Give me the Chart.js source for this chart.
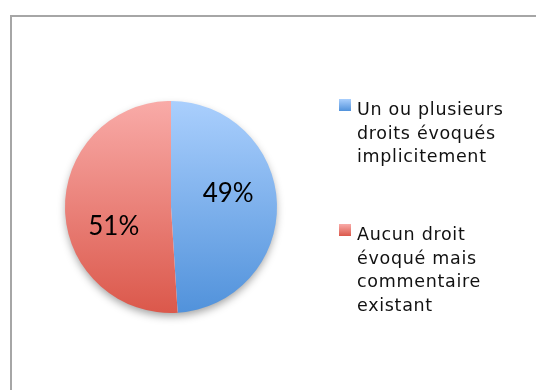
<!DOCTYPE html>
<html>
<head>
<meta charset="utf-8">
<script src="https://cdn.jsdelivr.net/npm/chart.js@4.4.0/dist/chart.umd.min.js"></script>
<style>
    html, body { margin: 0; padding: 0; background: #fff; }
    #wrap { position: relative; width: 536px; height: 390px; overflow: hidden; }
    #frame {
        position: absolute; left: 10px; top: 15px;
        width: 600px; height: 420px;
        border: 2px solid #a6a6a6; box-sizing: border-box;
    }
    canvas { position: absolute; left: 0; top: 0; }
</style>
</head>
<body>
<div id="wrap">
    <div id="frame"></div>
    <canvas id="pieChart" width="536" height="390"></canvas>
</div>
<script>
const categories = ["Un ou plusieurs droits évoqués implicitement", "Aucun droit évoqué mais commentaire existant"];
const legendLines = [
    ["Un ou plusieurs", "droits évoqués", "implicitement"],
    ["Aucun droit", "évoqué mais", "commentaire", "existant"]
];
const shares = [49, 51];
const colorsTop = ["#aacffd", "#f9aba8"];
const colorsBottom = ["#5192db", "#db584b"];

// soft drop shadow under the whole pie
const pieShadow = {
    id: "pieShadow",
    beforeDatasetsDraw(chart) {
        const arc = chart.getDatasetMeta(0).data[0];
        if (!arc) return;
        const ctx = chart.ctx;
        ctx.save();
        ctx.shadowColor = "rgba(0,0,0,0.38)";
        ctx.shadowBlur = 9;
        ctx.shadowOffsetY = 4;
        ctx.beginPath();
        ctx.arc(arc.x, arc.y, arc.outerRadius - 1, 0, Math.PI * 2);
        ctx.fillStyle = "#fff";
        ctx.fill();
        ctx.restore();
    }
};

// percentage text inside each slice
const sliceLabels = {
    id: "sliceLabels",
    afterDatasetsDraw(chart, args, opts) {
        const ctx = chart.ctx;
        const meta = chart.getDatasetMeta(0);
        ctx.save();
        ctx.font = opts.font;
        ctx.fillStyle = "#000";
        ctx.textAlign = "center";
        ctx.textBaseline = "middle";
        meta.data.forEach(function (arc, i) {
            const mid = (arc.startAngle + arc.endAngle) / 2;
            const d = arc.outerRadius * opts.distance;
            const x = arc.x + Math.cos(mid) * d;
            const y = arc.y + Math.sin(mid) * d + opts.nudgeY[i];
            ctx.fillText(chart.data.datasets[0].data[i] + "%", x, y);
        });
        ctx.restore();
    }
};

// legend on the right, wrapped over several lines
const sideLegend = {
    id: "sideLegend",
    afterDraw(chart, args, opts) {
        const ctx = chart.ctx;
        ctx.save();
        ctx.font = opts.font;
        ctx.letterSpacing = opts.spacing;
        ctx.textAlign = "left";
        ctx.textBaseline = "alphabetic";
        legendLines.forEach(function (lines, i) {
            const top = opts.tops[i];
            const g = ctx.createLinearGradient(0, top, 0, top + opts.box);
            g.addColorStop(0, colorsTop[i]);
            g.addColorStop(1, colorsBottom[i]);
            ctx.fillStyle = g;
            ctx.fillRect(opts.x, top, opts.box, opts.box);
            ctx.fillStyle = "#111";
            lines.forEach(function (line, j) {
                ctx.fillText(line, opts.x + opts.box + 6, top + opts.firstBaseline + j * opts.lineHeight);
            });
        });
        ctx.restore();
    }
};

function sliceGradient(context) {
    const chart = context.chart;
    const area = chart.chartArea;
    if (!area) return colorsTop[context.dataIndex];
    const g = chart.ctx.createLinearGradient(0, area.top, 0, area.bottom);
    g.addColorStop(0, colorsTop[context.dataIndex]);
    g.addColorStop(1, colorsBottom[context.dataIndex]);
    return g;
}

const ctx = document.getElementById("pieChart").getContext("2d");
const pieChart = new Chart(ctx, {
    type: "pie",
    data: {
        labels: categories,
        datasets: [{
            data: shares,
            backgroundColor: sliceGradient,
            borderWidth: 0
        }]
    },
    options: {
        responsive: false,
        animation: false,
        layout: {
            padding: { left: 65, right: 259, top: 101, bottom: 77 }
        },
        plugins: {
            legend: { display: false },
            tooltip: { enabled: false },
            sliceLabels: { font: "26px Lato, sans-serif", distance: 0.54, nudgeY: [-12, 18] },
            sideLegend: {
                font: "17.5px 'DejaVu Sans', sans-serif", spacing: "0.7px",
                x: 339, tops: [99, 224], box: 12, firstBaseline: 16, lineHeight: 23.5
            }
        }
    },
    plugins: [pieShadow, sliceLabels, sideLegend]
});
</script>
</body>
</html>
